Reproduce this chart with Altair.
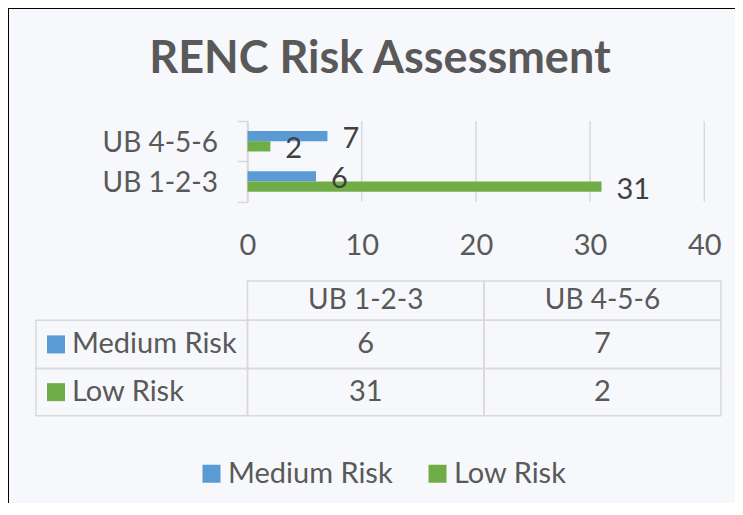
import altair as alt
import pandas as pd

# ---------------- data ----------------
title_text = "RENC Risk Assessment"
categories = ["UB 1-2-3", "UB 4-5-6"]
series_names = ["Medium Risk", "Low Risk"]
medium_risk = [6, 7]
low_risk = [31, 2]
x_ticks = [0, 10, 20, 30, 40]
series_colors = ["#5B9BD5", "#70AD47"]

# ---------------- tables built from the arrays ----------------
series_values = {"Medium Risk": medium_risk, "Low Risk": low_risk}
long_rows = []
for j, s in enumerate(series_names):
    for i, c in enumerate(categories):
        long_rows.append({"cat": c, "series": s, "value": series_values[s][i],
                          "xc": i + 1.5, "yc": j + 1.5})
long_df = pd.DataFrame(long_rows)

cell_rows = []
for i, c in enumerate(categories):
    cell_rows.append({"c0": i + 1, "c1": i + 2, "r0": 0, "r1": 1})
for j, s in enumerate(series_names):
    cell_rows.append({"c0": 0, "c1": 1, "r0": j + 1, "r1": j + 2})
    for i in range(len(categories)):
        cell_rows.append({"c0": i + 1, "c1": i + 2, "r0": j + 1, "r1": j + 2})
cells_df = pd.DataFrame(cell_rows)

header_df = pd.DataFrame({"text": categories,
                          "xc": [i + 1.5 for i in range(len(categories))],
                          "yc": [0.5] * len(categories)})
rowlab_df = pd.DataFrame({"series": series_names,
                          "c0": [0] * len(series_names),
                          "yc": [j + 1.5 for j in range(len(series_names))]})
grid_df = pd.DataFrame({"tick": x_ticks})

# ---------------- styling ----------------
W, H = 760, 520
FONT = "Lato"
FS = 29
FS_CAT = 28
TXT = "#595959"
GRID = "#D9D9D9"
BG = "#F7F8FC"

bar_x = alt.Scale(domain=[0, 40], range=[239.5, 696.3], nice=False, zero=False)
bar_y = alt.Scale(domain=categories[::-1], range=[113, 193.7], paddingInner=0, paddingOuter=0)
bar_off = alt.Scale(domain=series_names, paddingInner=0, paddingOuter=0.96)
color_scale = alt.Scale(domain=series_names, range=series_colors)

tab_x = alt.Scale(domain=[0, 1, 2, 3], range=[28, 239.5, 476, 713], nice=False, zero=False)
tab_y = alt.Scale(domain=[0, 1, 2, 3], range=[273, 312.3, 360.5, 407.8], nice=False, zero=False)

grid = alt.Chart(grid_df).mark_rule(color=GRID, strokeWidth=1.5).encode(
    x=alt.X("tick:Q", scale=bar_x, axis=None),
    y=alt.value(113),
    y2=alt.value(193.7),
)

bars = alt.Chart(long_df).mark_bar().encode(
    x=alt.X("value:Q", scale=bar_x,
            axis=alt.Axis(orient="bottom", offset=193.7 - H, values=x_ticks, grid=False,
                          domain=False, ticks=False, tickSize=0, labelFlush=False,
                          labelFont=FONT, labelFontSize=FS, labelColor=TXT, labelPadding=29.5,
                          labelLimit=400, title=None)),
    y=alt.Y("cat:N", scale=bar_y,
            axis=alt.Axis(orient="left", offset=-239.5, grid=False, domainColor=GRID, domainWidth=1.5,
                          tickColor=GRID, tickWidth=1.5, tickSize=10, tickBand="extent",
                          labelFont=FONT, labelFontSize=FS_CAT, labelColor=TXT, labelPadding=20,
                          labelOffset=2, labelLimit=400, title=None)),
    yOffset=alt.YOffset("series:N", scale=bar_off),
    color=alt.Color("series:N", scale=color_scale,
                    legend=alt.Legend(orient="none", legendX=189, legendY=451, direction="horizontal",
                                      title=None, symbolType="square", symbolSize=324,
                                      symbolStrokeWidth=0, labelFont=FONT, labelFontSize=FS,
                                      labelColor=TXT, labelOffset=2, columnPadding=30, padding=0,
                                      labelLimit=400)),
)

bar_labels = alt.Chart(long_df).mark_text(
    align="left", baseline="middle", dx=15, dy=3, font=FONT, fontSize=FS, color="#404040"
).encode(
    x=alt.X("value:Q", scale=bar_x, axis=None),
    y=alt.Y("cat:N", scale=bar_y, axis=None),
    yOffset=alt.YOffset("series:N", scale=bar_off),
    text="value:Q",
)

cells = alt.Chart(cells_df).mark_rect(fill=None, fillOpacity=0, stroke=GRID, strokeWidth=1.5).encode(
    x=alt.X("c0:Q", scale=tab_x, axis=None),
    x2="c1:Q",
    y=alt.Y("r0:Q", scale=tab_y, axis=None),
    y2="r1:Q",
)

header_text = alt.Chart(header_df).mark_text(
    align="center", baseline="middle", font=FONT, fontSize=FS_CAT, color=TXT
).encode(
    x=alt.X("xc:Q", scale=tab_x, axis=None),
    y=alt.Y("yc:Q", scale=tab_y, axis=None),
    text="text:N",
)

value_text = alt.Chart(long_df).mark_text(
    align="center", baseline="middle", font=FONT, fontSize=FS, color=TXT
).encode(
    x=alt.X("xc:Q", scale=tab_x, axis=None),
    y=alt.Y("yc:Q", scale=tab_y, axis=None),
    text="value:Q",
)

row_labels = alt.Chart(rowlab_df).mark_text(
    align="left", baseline="middle", dx=36, font=FONT, fontSize=FS, color=TXT
).encode(
    x=alt.X("c0:Q", scale=tab_x, axis=None),
    y=alt.Y("yc:Q", scale=tab_y, axis=None),
    text="series:N",
)

row_keys = alt.Chart(rowlab_df).mark_square(size=324, xOffset=20, opacity=1, filled=True).encode(
    x=alt.X("c0:Q", scale=tab_x, axis=None),
    y=alt.Y("yc:Q", scale=tab_y, axis=None),
    color=alt.Color("series:N", scale=color_scale, legend=None),
)

chart = alt.layer(
    grid, bars, bar_labels, cells, header_text, value_text, row_labels, row_keys
).resolve_scale(
    x="independent", y="independent"
).properties(
    width=W, height=H,
    autosize=alt.AutoSizeParams(type="none"),
    padding={"left": 0, "top": 0, "right": 727 - W, "bottom": 495 - H},
    background=BG,
    title=alt.TitleParams(text=title_text, font=FONT, fontSize=45, fontWeight="bold", color=TXT,
                          anchor="middle", frame="bounds", baseline="alphabetic", offset=-124, dx=-8),
).configure_view(stroke="black", strokeWidth=2, strokeDash=[W, W + H, H + 2])

chart.save("out.html", embed_options={"renderer": "svg", "actions": False})
